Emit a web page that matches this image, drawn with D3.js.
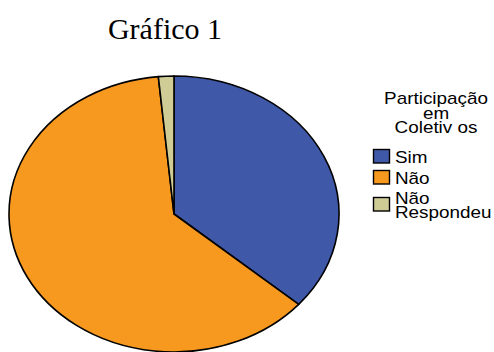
<!DOCTYPE html>
<html lang="pt">
<head>
<meta charset="UTF-8">
<title>Gráfico 1</title>
<style>
  body { margin: 0; background: #fff; }
  .legend text { font-family: "Liberation Sans", Arial, sans-serif; font-size: 16px; fill: #000; }
</style>
</head>
<body>
<svg id="chart"></svg>
<script src="https://d3js.org/d3.v7.min.js"></script>
<script>
// Data
var categories = ["Sim", "Não", "Não Respondeu"];
var values = [24, 41, 1];
var colors = ["#3f58a8", "#f8991f", "#d0cc96"];
var legendTitle = ["Participação", "em", "Coletiv os"];

var width = 494, height = 352;
var cx = 174, cy = 214, rx = 165, ry = 138;
var stretch = 1.18; // legend text is drawn a bit wide

var svg = d3.select("#chart")
    .attr("width", width)
    .attr("height", height);

// Title
svg.append("text")
    .attr("x", 165)
    .attr("y", 39)
    .attr("text-anchor", "middle")
    .style("font-family", "'Liberation Serif', 'Times New Roman', serif")
    .style("font-size", "30px")
    .text("Gráfico 1");

// Pie (ellipse: draw circle of radius rx and squash vertically)
var pie = d3.pie().sort(null).value(d => d);
var arc = d3.arc().innerRadius(0).outerRadius(rx);

var g = svg.append("g")
    .attr("transform", "translate(" + cx + "," + cy + ") scale(1," + (ry / rx) + ")");

g.selectAll("path")
    .data(pie(values))
    .enter()
    .append("path")
    .attr("d", arc)
    .attr("fill", (d, i) => colors[i])
    .attr("stroke", "#000")
    .attr("stroke-width", 1.6)
    .attr("stroke-linejoin", "round")
    .attr("vector-effect", "non-scaling-stroke");

// Legend
var legend = svg.append("g").attr("class", "legend");

var addText = (x, y, t, anchor) => {
    legend.append("text")
        .attr("transform", "translate(" + x + "," + y + ") scale(" + stretch + ",1)")
        .attr("text-anchor", anchor || "start")
        .text(t);
};

legendTitle.forEach((t, i) => addText(436, 104 + i * 14.5, t, "middle"));

var rows = [
    { lines: ["Sim"], y: 149 },
    { lines: ["Não"], y: 170 },
    { lines: ["Não", "Respondeu"], y: 197 }
];

rows.forEach((r, i) => {
    legend.append("rect")
        .attr("x", 373.5)
        .attr("y", r.y + 0.5)
        .attr("width", 16)
        .attr("height", 13.5)
        .attr("fill", colors[i])
        .attr("stroke", "#000")
        .attr("stroke-width", 1.4);
    r.lines.forEach((t, j) => addText(395, r.y + 14 + (r.lines.length > 1 ? -7 : 0) + j * 14, t));
});
</script>
</body>
</html>
